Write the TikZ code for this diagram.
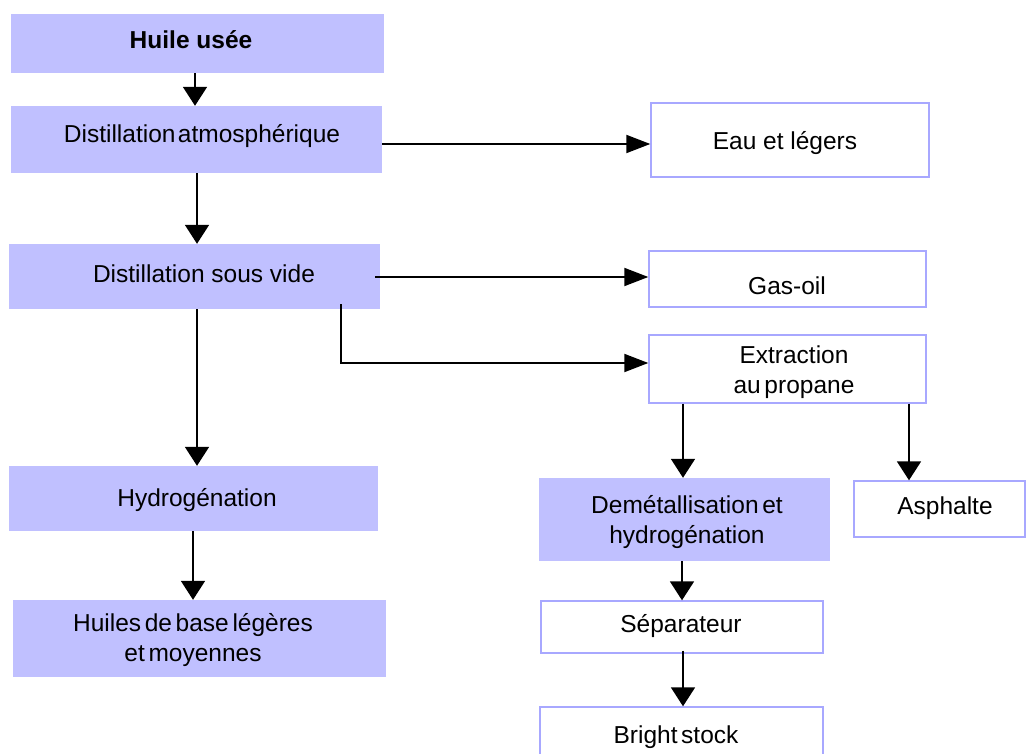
\documentclass[tikz,border=0pt]{standalone}
\usepackage{fontspec}
\setmainfont{Liberation Sans}
\usetikzlibrary{arrows.meta}
\definecolor{lav}{HTML}{C0C0FF}
\definecolor{lavline}{HTML}{A8A8FF}
\begin{document}
\begin{tikzpicture}[x=1pt,y=-1pt,
  fbox/.style={rectangle,fill=lav,inner sep=0pt},
  wbox/.style={rectangle,draw=lavline,line width=1.4pt,fill=white,inner sep=0pt},
  txt/.style={font=\fontsize{24.5}{30}\selectfont,align=center,inner sep=0pt},
  varr/.style={line width=1.9pt,-{Triangle[length=19pt,width=24pt]}},
  harr/.style={line width=1.9pt,-{Triangle[length=24pt,width=18pt]}}]
\useasboundingbox[fill=white] (0,0) rectangle (1026,754);
% boxes
\node[fbox,minimum width=373pt,minimum height=59pt] (huile) at (197.5,43.5) {};
\node[fbox,minimum width=371pt,minimum height=67pt] (atm) at (196.5,139.5) {};
\node[wbox,minimum width=278pt,minimum height=74pt] (eau) at (790,140) {};
\node[fbox,minimum width=371pt,minimum height=65pt] (vide) at (194.5,276.5) {};
\node[wbox,minimum width=277pt,minimum height=56pt] (gas) at (787.5,279) {};
\node[wbox,minimum width=277pt,minimum height=68pt] (extr) at (787.5,369) {};
\node[fbox,minimum width=369pt,minimum height=65pt] (hydro) at (193.5,498.5) {};
\node[fbox,minimum width=291pt,minimum height=83pt] (demet) at (684.5,519.5) {};
\node[wbox,minimum width=171pt,minimum height=56pt] (asph) at (939.5,509) {};
\node[fbox,minimum width=373pt,minimum height=77pt] (base) at (199.5,638.5) {};
\node[wbox,minimum width=282pt,minimum height=52pt] (sep) at (682,627) {};
\node[wbox,minimum width=283pt,minimum height=49pt] (bright) at (681.5,731.5) {};
% texts
\node[txt,font=\fontsize{24.5}{30}\selectfont\bfseries] (t1) at (191,40) {Huile usée};
\node[txt] (t2) at (202,136) {Distillation\hspace{0.1em}atmosphérique};
\node[txt] (t3) at (785,143) {Eau et légers};
\node[txt] (t4) at (204,274) {Distillation sous vide};
\node[txt] (t5) at (787,286) {Gas-oil};
\node[txt] (t6) at (794,372) {Extraction\\au\hspace{0.15em}propane};
\node[txt] (t7) at (197,500) {Hydrogénation};
\node[txt] (t8) at (687,522) {Demétallisation\hspace{0.15em}et\\hydrogénation};
\node[txt] (t9) at (945,508) {Asphalte};
\node[txt] (t10) at (193,640) {Huiles\hspace{0.15em}de\hspace{0.15em}base\hspace{0.15em}légères\\et\hspace{0.15em}moyennes};
\node[txt] (t11) at (681,626) {Séparateur};
\node[txt] (t12) at (676,737) {Bright\hspace{0.15em}stock};
% connectors
\coordinate (c1) at ([xshift=-2.5pt]huile.south);
\draw[varr] (c1) -- (c1 |- atm.north);
\coordinate (c2) at ([yshift=-4.5pt]atm.east);
\draw[harr] (c2) -- (c2 -| eau.west);
\coordinate (c3) at ([xshift=0.5pt]atm.south);
\draw[varr] (c3) -- (c3 |- vide.north);
\coordinate (c4) at ([xshift=-5pt,yshift=-0.5pt]vide.east);
\draw[harr] (c4) -- (c4 -| gas.west);
\coordinate (c5) at ([xshift=146.5pt,yshift=5pt]vide.south);
\coordinate (c5e) at ([yshift=6pt]extr.west);
\draw[harr] (c5) |- (c5e);
\coordinate (c6) at ([xshift=2.5pt]vide.south);
\draw[varr] (c6) -- (c6 |- hydro.north);
\coordinate (c7) at ([xshift=-0.5pt]hydro.south);
\draw[varr] (c7) -- (c7 |- base.north);
\coordinate (c8) at ([xshift=-104.5pt]extr.south);
\draw[varr] (c8) -- (c8 |- demet.north);
\coordinate (c9) at ([xshift=121.5pt]extr.south);
\draw[varr] (c9) -- (c9 |- asph.north);
\coordinate (c10) at ([xshift=-2.5pt]demet.south);
\draw[varr] (c10) -- (c10 |- sep.north);
\coordinate (c11) at ([xshift=1pt,yshift=3pt]sep.south);
\draw[varr] (c11) -- (c11 |- bright.north);
\end{tikzpicture}
\end{document}
